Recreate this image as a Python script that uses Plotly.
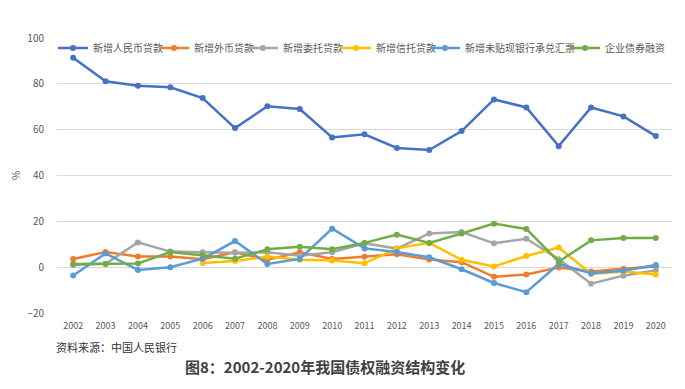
import plotly.graph_objects as go

years = [str(y) for y in range(2002, 2021)]

rmb_loans = [91.4, 81.1, 79.2, 78.5, 73.8, 60.7, 70.2, 69.0, 56.6, 58.0, 52.0, 51.1, 59.4, 73.2, 69.7, 52.8, 69.7, 65.8, 57.2]
fx_loans = [3.6, 6.6, 4.7, 4.7, 3.5, 6.5, 3.2, 6.5, 3.6, 4.6, 5.6, 3.3, 2.2, -4.2, -3.2, -0.1, -1.9, -0.7, 0.3]
entrusted_loans = [1.0, 1.5, 10.8, 6.8, 6.5, 6.3, 6.5, 5.0, 6.5, 10.4, 8.1, 14.7, 15.3, 10.4, 12.4, 3.5, -7.2, -3.7, -1.3]
trust_loans = [None, None, None, None, 1.8, 2.7, 4.6, 3.2, 2.9, 1.7, 8.2, 10.6, 3.2, 0.3, 4.9, 8.6, -3.0, -1.9, -3.2]
bank_acceptance = [-3.6, 6.0, -1.2, 0.0, 3.7, 11.4, 1.4, 3.6, 16.8, 8.2, 6.6, 4.3, -0.9, -6.9, -10.9, 1.4, -2.6, -1.6, 0.9]
corp_bonds = [1.4, 1.4, 1.6, 6.6, 5.3, 3.7, 7.8, 8.9, 7.8, 10.6, 14.2, 10.6, 14.7, 19.0, 16.7, 2.4, 11.7, 12.7, 12.7]

series_names = ["新增人民币贷款", "新增外币贷款", "新增委托贷款", "新增信托贷款", "新增未贴现银行承兑汇票", "企业债券融资"]
series_values = [rmb_loans, fx_loans, entrusted_loans, trust_loans, bank_acceptance, corp_bonds]
series_colors = ["#4472C4", "#ED7D31", "#A5A5A5", "#FFC000", "#5B9BD5", "#70AD47"]

FONT = "Noto Sans CJK SC"
OFF = 8  # page body margin
W, H = 685 - OFF, 389 - OFF
ML, MT = 57 - OFF, 38 - OFF
MR, MB = 13, 76
PW = W - ML - MR
PH = H - MT - MB

# legend text start (window px) as in the reference
legend_text_px = [93, 194, 283, 376, 465, 605]
legend_y = (H - MB - (48 - OFF)) / PH

fig = go.Figure()
layout_legends = {}
for i, (name, vals, color) in enumerate(zip(series_names, series_values, series_colors)):
    key = "legend" if i == 0 else f"legend{i + 1}"
    fig.add_trace(go.Scatter(
        x=years, y=vals, name=name, mode="lines+markers",
        line=dict(color=color, width=2.5),
        marker=dict(color=color, size=6),
        legend=key,
    ))
    layout_legends[key] = dict(
        orientation="h", x=(legend_text_px[i] - OFF - 40 - ML) / PW, y=legend_y,
        xanchor="left", yanchor="middle",
        font=dict(family=FONT, size=10, color="#595959"),
        itemwidth=30, bgcolor="rgba(0,0,0,0)", borderwidth=0,
    )

fig.update_layout(
    width=W, height=H,
    margin=dict(l=ML, r=MR, t=MT, b=MB, autoexpand=False),
    paper_bgcolor="white", plot_bgcolor="white",
    font=dict(family=FONT, size=10, color="#595959"),
    showlegend=True,
    xaxis=dict(
        type="category", range=[-0.5, 18.5], automargin=False,
        showgrid=False, showline=False, zeroline=False,
        ticks="", ticklabelstandoff=6,
        tickfont=dict(size=9, color="#595959"),
    ),
    yaxis=dict(
        range=[-20, 100], dtick=20, tick0=0, automargin=False,
        showgrid=True, gridcolor="#D9D9D9", gridwidth=1,
        zeroline=True, zerolinecolor="#D9D9D9", zerolinewidth=1,
        showline=False, ticks="", ticklabelstandoff=12,
        tickfont=dict(size=10, color="#595959"),
        title=dict(text="%", font=dict(size=10, color="#595959"), standoff=14),
    ),
    annotations=[
        dict(text="资料来源：中国人民银行", xref="paper", yref="paper",
             x=(54 - OFF - ML) / PW, y=(H - MB - (347 - OFF)) / PH,
             xanchor="left", yanchor="middle", showarrow=False,
             font=dict(family=FONT, size=11, color="#333333")),
        dict(text="<b>图8：2002-2020年我国债权融资结构变化</b>", xref="paper", yref="paper",
             x=(325 - OFF - ML) / PW, y=(H - MB - (366 - OFF)) / PH,
             xanchor="center", yanchor="middle", showarrow=False,
             font=dict(family=FONT, size=15, color="#404040")),
    ],
    **layout_legends,
)

fig.write_html("out.html")
